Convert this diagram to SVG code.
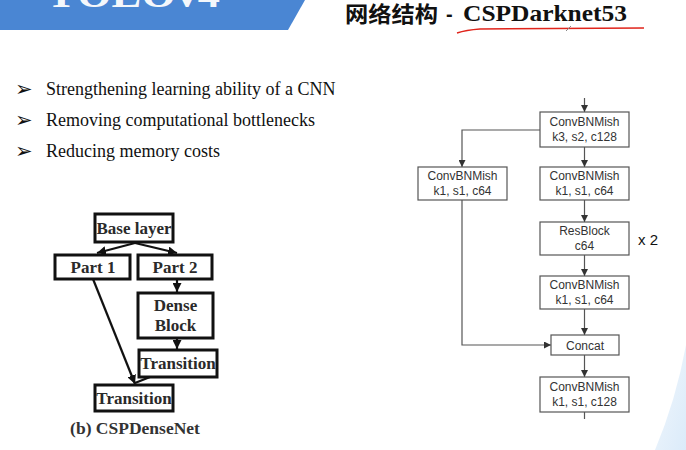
<svg xmlns="http://www.w3.org/2000/svg" width="686" height="450" viewBox="0 0 686 450">
<defs>
<style>
.bul{font-family:"Liberation Serif",serif;font-size:18px;fill:#111}
.sym{font-family:"DejaVu Sans",sans-serif;font-size:21px;fill:#111}
.lbox{fill:#fff;stroke:#111;stroke-width:3}
.ltxt{font-family:"Liberation Serif",serif;font-weight:bold;font-size:17px;fill:#2a2a2a;text-anchor:middle}
.larr{stroke:#111;stroke-width:2.2;fill:none}
.rbox{fill:#fff;stroke:#555;stroke-width:1.2}
.rtxt{font-family:"Liberation Sans",Arial,sans-serif;font-size:12px;fill:#333;text-anchor:middle}
.rarr{stroke:#555;stroke-width:1.2;fill:none}
</style>
<marker id="ma" viewBox="0 0 10 10" refX="10" refY="5" markerWidth="9" markerHeight="9" markerUnits="userSpaceOnUse" orient="auto"><path d="M0,0 L10,5 L0,10 Z" fill="#111"/></marker>
<marker id="mr" viewBox="0 0 10 10" refX="10" refY="5" markerWidth="7" markerHeight="7" markerUnits="userSpaceOnUse" orient="auto"><path d="M0,0 L10,5 L0,10 Z" fill="#333"/></marker>
<linearGradient id="deco" x1="0" y1="0" x2="1" y2="1"><stop offset="0" stop-color="#eef5fc"/><stop offset="1" stop-color="#d2e6f8"/></linearGradient>
</defs>
<rect width="686" height="450" fill="#fff"/>
<g id="banner">
<path d="M0,0 H305 L288,30 H0 Z" fill="#4a86d3"/>
<text x="45" y="7" font-family="Liberation Serif,serif" font-weight="bold" font-size="40" fill="#f4f7fb" textLength="175" lengthAdjust="spacingAndGlyphs">YOLOv4</text>
</g>
<g id="deco-br">
<path d="M686,345 Q676,400 655,450 H686 Z" fill="url(#deco)" opacity="0.8"/>
</g>
<g id="title">
<text x="345" y="22" font-family="Noto Sans CJK SC,sans-serif" font-weight="bold" font-size="22" fill="#111" textLength="93" lengthAdjust="spacingAndGlyphs">网络结构</text>
<text x="446" y="21" font-family="Liberation Sans,sans-serif" font-weight="bold" font-size="20" fill="#111">-</text>
<text x="463" y="21" font-family="Liberation Serif,serif" font-weight="bold" font-size="24" fill="#111" textLength="164" lengthAdjust="spacingAndGlyphs">CSPDarknet53</text>
<path d="M457,33 Q466,30 480,29 L644,28" stroke="#e0241b" stroke-width="1.5" fill="none"/>
<path d="M566,31 L571,26" stroke="#888" stroke-width="1"/>
</g>
<g id="bullets">
<text class="sym" x="15" y="96">➢</text>
<text class="bul" x="46" y="95">Strengthening learning ability of a CNN</text>
<text class="sym" x="15" y="127">➢</text>
<text class="bul" x="46" y="126">Removing computational bottlenecks</text>
<text class="sym" x="15" y="158">➢</text>
<text class="bul" x="46" y="157">Reducing memory costs</text>
</g>
<g id="csp-connectors">
<path class="larr" d="M135,243 L97,253" marker-end="url(#ma)"/>
<path class="larr" d="M135,243 L177,253" marker-end="url(#ma)"/>
<path class="larr" d="M177,279 V292" marker-end="url(#ma)"/>
<path class="larr" d="M177,338 V349" marker-end="url(#ma)"/>
<path class="larr" d="M93,279 L135,384" marker-end="url(#ma)"/>
<path class="larr" d="M150,377 L135,383"/>
</g>
<g id="base-layer"><rect class="lbox" x="95" y="214" width="78" height="28"/><text class="ltxt" x="134" y="234">Base layer</text></g>
<g id="part1"><rect class="lbox" x="55" y="255" width="75" height="24"/><text class="ltxt" x="93" y="273">Part 1</text></g>
<g id="part2"><rect class="lbox" x="138" y="255" width="74" height="24"/><text class="ltxt" x="175" y="273">Part 2</text></g>
<g id="dense-block"><rect class="lbox" x="138" y="293" width="75" height="45"/><text class="ltxt" x="175.5" y="311">Dense</text><text class="ltxt" x="175.5" y="331">Block</text></g>
<g id="transition-r"><rect class="lbox" x="139" y="350" width="78" height="27"/><text class="ltxt" x="178" y="369">Transition</text></g>
<g id="transition-b"><rect class="lbox" x="95" y="385" width="78" height="26"/><text class="ltxt" x="134" y="404">Transition</text></g>
<text id="caption" x="135" y="434" font-family="Liberation Serif,serif" font-weight="bold" font-size="17.5" fill="#333" text-anchor="middle">(b) CSPDenseNet</text>
<g id="darknet-connectors">
<path class="rarr" d="M584.5,98 V112" marker-end="url(#mr)"/>
<path class="rarr" d="M540,130 H462 V167" marker-end="url(#mr)"/>
<path class="rarr" d="M584.5,147 V167" marker-end="url(#mr)"/>
<path class="rarr" d="M584.5,200 V222" marker-end="url(#mr)"/>
<path class="rarr" d="M584.5,255 V276" marker-end="url(#mr)"/>
<path class="rarr" d="M584.5,309 V335" marker-end="url(#mr)"/>
<path class="rarr" d="M462,200 V345 H551" marker-end="url(#mr)"/>
<path class="rarr" d="M584.5,355 V377" marker-end="url(#mr)"/>
<path class="rarr" d="M584.5,412 V419"/>
</g>
<g id="cbm1"><rect class="rbox" x="540" y="112" width="89" height="35"/><text class="rtxt" x="584.5" y="126">ConvBNMish</text><text class="rtxt" x="584.5" y="141">k3, s2, c128</text></g>
<g id="cbm-left"><rect class="rbox" x="418" y="167" width="89" height="33"/><text class="rtxt" x="462.5" y="180">ConvBNMish</text><text class="rtxt" x="462.5" y="195">k1, s1, c64</text></g>
<g id="cbm2"><rect class="rbox" x="540" y="167" width="89" height="33"/><text class="rtxt" x="584.5" y="180">ConvBNMish</text><text class="rtxt" x="584.5" y="195">k1, s1, c64</text></g>
<g id="resblock"><rect class="rbox" x="540" y="222" width="89" height="33"/><text class="rtxt" x="584.5" y="235">ResBlock</text><text class="rtxt" x="584.5" y="250">c64</text></g>
<text id="x2" x="638" y="245" font-family="Liberation Sans,Arial,sans-serif" font-size="15" fill="#111">x 2</text>
<g id="cbm3"><rect class="rbox" x="540" y="276" width="89" height="33"/><text class="rtxt" x="584.5" y="289">ConvBNMish</text><text class="rtxt" x="584.5" y="304">k1, s1, c64</text></g>
<g id="concat"><rect class="rbox" x="551" y="335" width="68" height="20"/><text class="rtxt" x="585" y="349.5">Concat</text></g>
<g id="cbm4"><rect class="rbox" x="540" y="377" width="89" height="35"/><text class="rtxt" x="584.5" y="391">ConvBNMish</text><text class="rtxt" x="584.5" y="406">k1, s1, c128</text></g>
</svg>
